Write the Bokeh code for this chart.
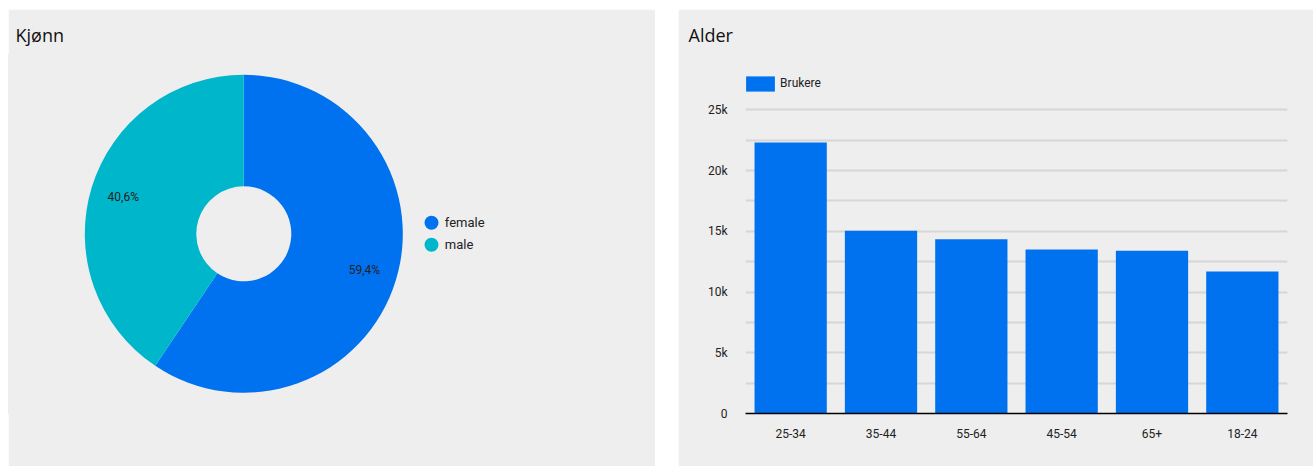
import numpy as np
from bokeh.plotting import figure
from bokeh.layouts import row, column
from bokeh.models import (Range1d, FixedTicker, Legend, LegendItem, Title,
                          ColumnDataSource, FactorRange, Spacer)
from bokeh.core.properties import value
from bokeh.embed import file_html
from bokeh.resources import INLINE

# ---------------- data ----------------
gender_labels = ["female", "male"]
gender_share = [59.4, 40.6]
gender_colors = ["#0072f0", "#00b6cb"]

age_groups = ["25-34", "35-44", "55-64", "45-54", "65+", "18-24"]
age_users = [22300, 15050, 14350, 13490, 13400, 11680]
age_series = "Brukere"
bar_color = "#0072f0"
y_ticks = [0, 5000, 10000, 15000, 20000, 25000]
y_minor_ticks = [2500, 7500, 12500, 17500, 22500]
y_tick_labels = ["0", "5k", "10k", "15k", "20k", "25k"]

# ---------------- style / layout ----------------
BG = "#eeeeee"
TXT = "#222222"
TITLE_FONT = "Open Sans"
FONT = "Roboto"
W1, W2, H = 647, 635, 457
MB_T, MB_B = 45, 53          # shared top / bottom borders (frames are aligned in a row)
MB_L, MB_R = 67, 26          # bar chart left / right borders
GRID_TOP_PX = 100.3          # where the 25k gridline sits, from the figure top
FRAME_H = H - MB_T - MB_B


def make_title(text, offset):
    return Title(text=text, align="left", offset=offset, standoff=16,
                 text_font=TITLE_FONT, text_font_size="18px",
                 text_font_style="normal", text_color="#111111")


def style_panel(p):
    p.background_fill_color = BG
    p.border_fill_color = BG
    p.outline_line_color = BG
    p.outline_line_width = 2


# ---------------- left: donut ----------------
p1 = figure(width=W1, height=H, x_range=Range1d(0, W1),
            y_range=Range1d(MB_B, H - MB_T), title=None,
            x_axis_type=None, y_axis_type=None, output_backend="svg",
            toolbar_location=None, min_border_left=0, min_border_right=0,
            min_border_top=MB_T, min_border_bottom=MB_B)
p1.add_layout(make_title("Kjønn", 7), "above")
p1.grid.visible = False
style_panel(p1)

cx, cy = 235.3, H - 224.3
r_out, r_in, r_lab = 159, 47.5, 126

share = np.array(gender_share, dtype=float)
frac = share / share.sum()
cum = np.concatenate([[0], np.cumsum(frac)])
start = np.pi / 2 - 2 * np.pi * cum[:-1]
end = np.pi / 2 - 2 * np.pi * cum[1:]
mid = (start + end) / 2

src1 = ColumnDataSource(dict(
    start=start, end=end, color=gender_colors,
    lx=cx + r_lab * np.cos(mid), ly=cy + r_lab * np.sin(mid),
    txt=[f"{v:.1f}".replace(".", ",") + "%" for v in gender_share],
))
p1.annular_wedge(x=cx, y=cy, inner_radius=r_in, outer_radius=r_out,
                 start_angle="start", end_angle="end", direction="clock",
                 fill_color="color", line_color=None, source=src1)
p1.text(x="lx", y="ly", text="txt", source=src1, text_align="center",
        text_baseline="middle", text_font=value(FONT), text_font_size="12px",
        text_color=TXT)

# legend with round markers
leg_x, leg_y0, leg_dy = 423, H - 213.3, 22
n = len(gender_labels)
leg_src = ColumnDataSource(dict(
    x=[leg_x] * n,
    y=[leg_y0 - i * leg_dy for i in range(n)],
    tx=[leg_x + 13.3] * n,
    label=gender_labels, color=gender_colors,
))
p1.scatter(x="x", y="y", size=14, fill_color="color", line_color=None,
           source=leg_src)
p1.text(x="tx", y="y", text="label", source=leg_src, text_align="left",
        text_baseline="middle", text_font=value(FONT), text_font_size="13px",
        text_color=TXT)

# ---------------- right: bars ----------------
y_end = 25000 * FRAME_H / (H - MB_B - GRID_TOP_PX)
p2 = figure(width=W2, height=H, x_range=FactorRange(*age_groups, range_padding=0),
            y_range=Range1d(0, y_end), title=None, output_backend="svg",
            toolbar_location=None, min_border_left=MB_L, min_border_right=MB_R,
            min_border_top=MB_T, min_border_bottom=MB_B)
p2.add_layout(make_title("Alder", 10 - MB_L), "above")
style_panel(p2)

src2 = ColumnDataSource(dict(x=age_groups, top=age_users))
bars = p2.vbar(x="x", top="top", width=0.8, source=src2,
               fill_color=bar_color, line_color=None)

p2.xgrid.visible = False
p2.yaxis.ticker = FixedTicker(ticks=y_ticks, minor_ticks=y_minor_ticks)
p2.ygrid.grid_line_color = "#d6d6d6"
p2.ygrid.grid_line_width = 2
p2.ygrid.minor_grid_line_color = "#d6d6d6"
p2.ygrid.minor_grid_line_width = 2
p2.yaxis.major_label_overrides = {t: l for t, l in zip(y_ticks, y_tick_labels)}
p2.yaxis.axis_line_color = None
p2.yaxis.major_tick_line_color = None
p2.yaxis.minor_tick_line_color = None
p2.yaxis.major_label_standoff = 12
p2.yaxis.major_label_text_font = FONT
p2.yaxis.major_label_text_font_size = "12px"
p2.yaxis.major_label_text_color = TXT

p2.xaxis.axis_line_color = "#000000"
p2.xaxis.axis_line_width = 1.5
p2.xaxis.major_tick_line_color = None
p2.xaxis.minor_tick_line_color = None
p2.xaxis.major_label_standoff = 9
p2.xaxis.major_label_text_font = FONT
p2.xaxis.major_label_text_font_size = "12px"
p2.xaxis.major_label_text_color = TXT

legend = Legend(items=[LegendItem(label=age_series, renderers=[bars])],
                location=(-2.9, 320.4), glyph_width=36, glyph_height=19,
                label_standoff=2, label_height=19, padding=0, margin=0,
                background_fill_alpha=0, border_line_color=None,
                label_text_font=FONT, label_text_font_size="12px",
                label_text_color=TXT)
p2.add_layout(legend, "center")

layout = column(Spacer(height=9),
                row(Spacer(width=8), p1, Spacer(width=23), p2))
open("out.html", "w").write(file_html(layout, INLINE))
